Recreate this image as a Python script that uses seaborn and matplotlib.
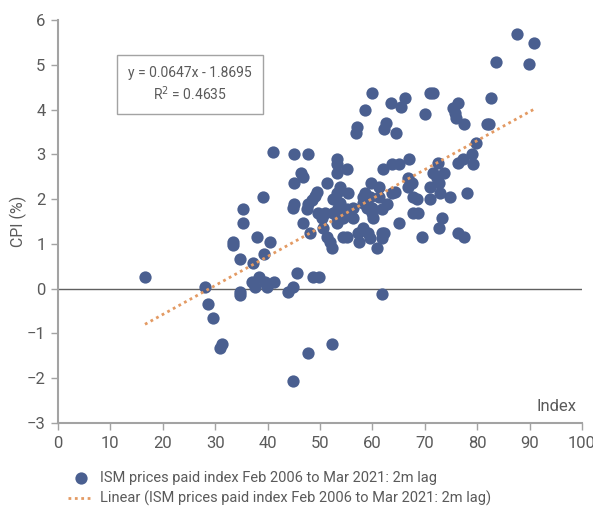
"""
ISM prices paid index vs CPI scatter with linear trend
"""

import numpy as np
import pandas as pd
import matplotlib
matplotlib.use("Agg")
import matplotlib.pyplot as plt
import seaborn as sns

sns.set_style("white")
plt.rcParams['font.family'] = ['Roboto', 'DejaVu Sans']

# ISM prices paid index (x) and CPI % (y)
ism_index = [
    16.6, 28.1, 28.6, 29.6, 30.9, 31.3, 33.4, 33.4, 34.7, 34.7,
    34.7, 35.3, 35.3, 37.0, 37.2, 37.6, 38.0, 38.3, 39.1, 39.3,
    39.5, 39.8, 40.5, 41.0, 41.2, 43.9, 44.8, 44.8, 44.8, 45.1,
    45.0, 45.0, 45.6, 46.3, 46.7, 46.8, 47.5, 47.7, 47.7, 47.7,
    48.1, 48.5, 48.7, 49.0, 49.4, 49.6, 49.9, 50.4, 50.6, 51.0,
    51.3, 51.3, 51.9, 52.3, 52.3, 52.5, 52.5, 53.2, 53.2, 53.2,
    53.2, 53.2, 53.2, 53.4, 53.8, 53.8, 54.4, 54.4, 55.2, 55.2,
    55.3, 55.2, 56.3, 56.3, 56.8, 57.1, 57.3, 57.4, 58.2, 58.2,
    58.2, 58.6, 58.6, 59.0, 59.2, 59.5, 59.5, 59.7, 59.9, 59.9,
    59.9, 60.1, 60.9, 61.3, 61.3, 61.8, 61.8, 61.8, 61.8, 62.0,
    62.2, 62.2, 62.5, 62.8, 63.5, 63.7, 63.7, 64.3, 64.5, 65.1,
    65.1, 65.5, 66.2, 66.8, 66.8, 67.0, 67.6, 67.7, 67.7, 68.5,
    68.7, 69.5, 70.0, 71.0, 71.6, 71.0, 71.0, 71.6, 72.3, 72.7,
    72.5, 72.7, 72.9, 73.3, 73.7, 74.8, 75.4, 75.8, 76.0, 76.3,
    76.3, 76.3, 77.3, 77.5, 77.5, 78.1, 79.0, 79.2, 79.8, 81.9,
    82.3, 82.6, 83.6, 87.6, 89.9, 90.8,
]
cpi = [
    0.25, 0.04, -0.34, -0.65, -1.32, -1.23, 1.04, 0.98, 0.67, -0.07,
    -0.13, 1.79, 1.47, 0.16, 0.57, 0.04, 1.15, 0.26, 2.05, 0.78,
    0.16, 0.04, 1.05, 3.06, 0.14, -0.07, 0.04, -2.07, 1.81, 1.90,
    3.00, 2.37, 0.36, 2.59, 2.49, 1.47, 1.79, 3.00, -1.43, 1.88,
    1.25, 1.99, 0.25, 2.08, 2.17, 1.70, 0.25, 1.58, 1.36, 1.70,
    2.37, 1.16, 1.05, 0.90, -1.23, 1.70, 2.00, 2.90, 2.79, 2.59,
    2.14, 1.47, 1.61, 1.81, 1.92, 2.26, 1.58, 1.16, 2.68, 1.79,
    2.14, 1.16, 1.58, 1.81, 3.48, 3.60, 1.25, 1.04, 1.36, 1.92,
    2.05, 2.14, 4.00, 1.81, 1.25, 1.14, 2.05, 2.37, 4.38, 1.81,
    1.70, 1.58, 0.90, 2.26, 2.05, 1.79, 1.25, 1.14, -0.11, 2.68,
    3.57, 1.25, 3.70, 1.90, 4.15, 2.79, 2.14, 2.17, 3.48, 2.79,
    1.47, 4.06, 4.26, 2.48, 2.26, 2.90, 2.37, 1.70, 2.05, 2.00,
    1.70, 1.16, 3.90, 4.38, 4.38, 2.26, 2.00, 2.59, 2.48, 2.37,
    2.81, 1.36, 2.14, 1.58, 2.59, 2.05, 4.04, 3.93, 3.82, 4.15,
    2.81, 1.25, 2.90, 3.68, 1.16, 2.14, 3.01, 2.79, 3.26, 3.68,
    3.68, 4.26, 5.07, 5.69, 5.02, 5.49,
]

# fitted trend from the chart label
SLOPE = 0.0647
INTERCEPT = -1.8695
R2 = 0.4635

X_TICKS = list(range(0, 101, 10))
Y_TICKS = list(range(-3, 7))

SCATTER_LABEL = 'ISM prices paid index Feb 2006 to Mar 2021: 2m lag'
TREND_LABEL = 'Linear (ISM prices paid index Feb 2006 to Mar 2021: 2m lag)'

DOT_COLOR = '#4A5F90'
TREND_COLOR = '#E39A63'
AXIS_COLOR = '#A3A3A3'
TEXT_COLOR = '#5A5A5A'


def main():
    df = pd.DataFrame({'ism': ism_index, 'cpi': cpi})
    x_fit = np.array([df['ism'].min(), df['ism'].max()])
    trend = pd.DataFrame({'ism': x_fit, 'cpi': SLOPE * x_fit + INTERCEPT})

    fig = plt.figure(figsize=(5.93, 5.08), dpi=100)
    ax = fig.add_axes([0.0978, 0.1673, 0.8837, 0.7933])

    ax.axhline(0, color='#606060', linewidth=1.0, zorder=1)

    sns.lineplot(data=trend, x='ism', y='cpi', ax=ax, color=TREND_COLOR,
                 linewidth=2.0, linestyle=(0, (1, 1.3)), label=TREND_LABEL,
                 zorder=3)
    sns.scatterplot(data=df, x='ism', y='cpi', ax=ax, color=DOT_COLOR,
                    s=78, linewidth=0, label=SCATTER_LABEL, zorder=2)

    ax.set_xlim(0, 100)
    ax.set_ylim(-3, 6)
    ax.set_xticks(X_TICKS)
    ax.set_yticks(Y_TICKS)
    ax.tick_params(axis='both', direction='out', length=5, width=1,
                   color=AXIS_COLOR, labelcolor=TEXT_COLOR, labelsize=12,
                   left=True, bottom=True, pad=4)
    for side in ['top', 'right']:
        ax.spines[side].set_visible(False)
    for side in ['left', 'bottom']:
        ax.spines[side].set_color(AXIS_COLOR)
        ax.spines[side].set_linewidth(1.5)

    ax.set_xlabel('')
    ax.set_ylabel('CPI (%)', fontsize=11.5, color=TEXT_COLOR)
    ax.yaxis.set_label_coords(-0.06, 0.5)
    ax.text(0.99, 0.042, 'Index', transform=ax.transAxes, ha='right',
            va='center', fontsize=12, color=TEXT_COLOR)

    eq_text = f"y = {SLOPE}x - {abs(INTERCEPT)}\nR$^2$ = {R2}"
    ax.text(0.252, 0.84, eq_text, transform=ax.transAxes, ha='center',
            va='center', fontsize=10, color=TEXT_COLOR, linespacing=1.25,
            bbox=dict(boxstyle='square,pad=0.8', facecolor='white',
                      edgecolor=AXIS_COLOR, linewidth=1))

    handles, labels = ax.get_legend_handles_labels()
    order = [labels.index(SCATTER_LABEL), labels.index(TREND_LABEL)]
    ax.legend([handles[i] for i in order], [labels[i] for i in order],
              loc='upper left', bbox_to_anchor=(0.115, 0.073),
              bbox_transform=fig.transFigure, frameon=False, fontsize=10.5,
              labelcolor=TEXT_COLOR, handlelength=1.7, handletextpad=0.45,
              borderaxespad=0, borderpad=0, labelspacing=0.4)

    fig.savefig('out.png', dpi=100, facecolor='white')


if __name__ == "__main__":
    main()
